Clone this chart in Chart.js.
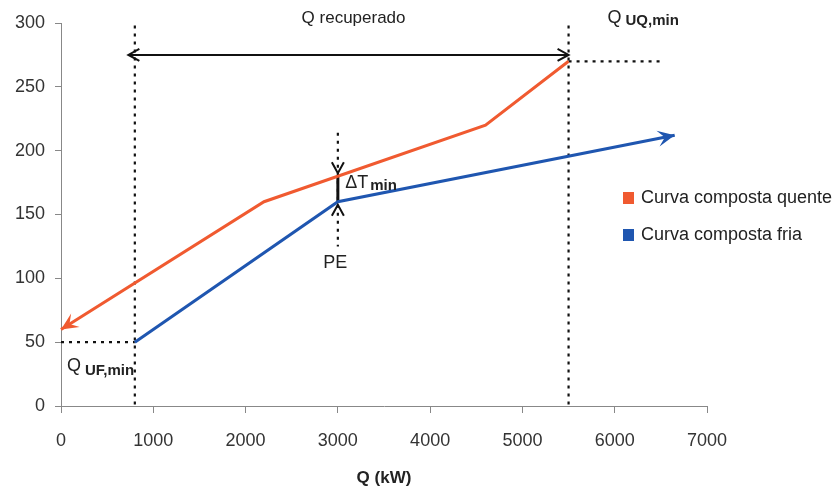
<!DOCTYPE html>
<html>
<head>
<meta charset="utf-8">
<script src="https://cdn.jsdelivr.net/npm/chart.js@4.4.1/dist/chart.umd.min.js"></script>
<style>
html, body { margin: 0; padding: 0; background: #fff; }
#wrap { width: 837px; height: 491px; }
</style>
</head>
<body>
<div id="wrap"><canvas id="myChart"></canvas></div>
<script>
//hot composite curve (Q kW, T)
var hotQ = [0, 2200, 4600, 5500];
var hotT = [60, 160, 220, 270];

//cold composite curve
var coldQ = [800, 3000, 6650];
var coldT = [50, 160, 212];

//axis ticks
var xTicks = [0, 1000, 2000, 3000, 4000, 5000, 6000, 7000];
var yTicks = [0, 50, 100, 150, 200, 250, 300];

//dotted guide lines: q1, t1, q2, t2
var guideQ1 = [800, 5500, 5500, 0, 3000];
var guideT1 = [298, 298, 270, 50, 214];
var guideQ2 = [800, 5500, 6500, 800, 3000];
var guideT2 = [0, 0, 270, 50, 125];

//Q recuperado arrow and delta T at the pinch
var recQ = [730, 5500];
var recT = 275;
var pinchQ = 3000;
var pinchT = [160, 180];

var seriesNames = ["Curva composta quente", "Curva composta fria"];
var hotColor = "#f05a30";
var coldColor = "#1f56b0";

var FONT = "'Liberation Sans', Arial, sans-serif";

function pts(qs, ts) {
    var out = [];
    for (var i = 0; i < qs.length; i++) out.push({x: qs[i], y: ts[i]});
    return out;
}

var datasets = [
    {data: pts(hotQ, hotT), borderColor: hotColor, borderWidth: 3},
    {data: pts(coldQ, coldT), borderColor: coldColor, borderWidth: 3}
];
for (var g = 0; g < guideQ1.length; g++) {
    datasets.push({
        data: [{x: guideQ1[g], y: guideT1[g]}, {x: guideQ2[g], y: guideT2[g]}],
        borderColor: "#111", borderWidth: 2.2, borderDash: [3, 5]
    });
}
datasets.push({data: [{x: recQ[0], y: recT}, {x: recQ[1], y: recT}], borderColor: "#111", borderWidth: 2});
datasets.push({data: [{x: pinchQ, y: pinchT[0]}, {x: pinchQ, y: pinchT[1]}], borderColor: "#111", borderWidth: 3});
datasets.forEach(function (d) {
    d.showLine = true;
    d.pointRadius = 0;
    d.fill = false;
    d.clip = false;
});

//filled arrow head
function stealth(ctx, x, y, ang, color) {
    ctx.save();
    ctx.translate(x, y);
    ctx.rotate(ang);
    ctx.fillStyle = color;
    ctx.beginPath();
    ctx.moveTo(0, 0);
    ctx.lineTo(-17, -8);
    ctx.lineTo(-10, 0);
    ctx.lineTo(-17, 8);
    ctx.closePath();
    ctx.fill();
    ctx.restore();
}

//open arrow head
function chevron(ctx, x, y, ang) {
    ctx.save();
    ctx.translate(x, y);
    ctx.rotate(ang);
    ctx.strokeStyle = "#111";
    ctx.lineWidth = 2;
    ctx.beginPath();
    ctx.moveTo(-11, -6);
    ctx.lineTo(0, 0);
    ctx.lineTo(-11, 6);
    ctx.stroke();
    ctx.restore();
}

var extras = {
    id: "extras",
    afterDatasetsDraw: function (chart) {
        var ctx = chart.ctx;
        var xs = chart.scales.x, ys = chart.scales.y;
        function px(v) { return xs.getPixelForValue(v); }
        function py(v) { return ys.getPixelForValue(v); }

        //curve arrow heads
        var a = Math.atan2(py(hotT[0]) - py(hotT[1]), px(hotQ[0]) - px(hotQ[1]));
        stealth(ctx, px(hotQ[0]), py(hotT[0]), a, hotColor);
        var n = coldQ.length - 1;
        a = Math.atan2(py(coldT[n]) - py(coldT[n - 1]), px(coldQ[n]) - px(coldQ[n - 1]));
        stealth(ctx, px(coldQ[n]), py(coldT[n]), a, coldColor);

        chevron(ctx, px(recQ[0]), py(recT), Math.PI);
        chevron(ctx, px(recQ[1]), py(recT), 0);
        chevron(ctx, px(pinchQ), py(pinchT[1]) - 3, Math.PI / 2);
        chevron(ctx, px(pinchQ), py(pinchT[0]) + 3, -Math.PI / 2);

        //texts
        ctx.save();
        ctx.fillStyle = "#222";
        ctx.textBaseline = "middle";
        ctx.textAlign = "center";
        ctx.font = "17px " + FONT;
        ctx.fillText("Q recuperado", px(3170), py(304));
        ctx.font = "18px " + FONT;
        ctx.fillText("PE", px(2972), py(112));

        ctx.textAlign = "left";
        ctx.fillText("Q", px(5922), py(304));
        ctx.fillText("Q", px(65), py(31));
        ctx.fillText("\u0394T", px(3080), py(175));
        ctx.font = "bold 15px " + FONT;
        ctx.fillText("UQ,min", px(5922) + 18, py(304) + 3);
        ctx.fillText("UF,min", px(65) + 18, py(31) + 4);
        ctx.fillText("min", px(3080) + 25, py(175) + 3);

        //legend
        var cols = [hotColor, coldColor];
        var ly = [198, 235];
        ctx.font = "18px " + FONT;
        for (var i = 0; i < seriesNames.length; i++) {
            ctx.fillStyle = cols[i];
            ctx.fillRect(623, ly[i] - 6, 11, 12);
            ctx.fillStyle = "#222";
            ctx.fillText(seriesNames[i], 641, ly[i]);
        }
        ctx.restore();
    }
};

function plain(v) { return String(v); }

var myChart = new Chart(document.getElementById("myChart"), {
    type: "scatter",
    data: {datasets: datasets},
    plugins: [extras],
    options: {
        responsive: true,
        maintainAspectRatio: false,
        animation: false,
        layout: {padding: {top: 23, right: 130, left: 0, bottom: 0}},
        plugins: {legend: {display: false}, tooltip: {enabled: false}},
        scales: {
            x: {
                type: "linear",
                min: 0, max: 7000,
                afterBuildTicks: function (s) { s.ticks = xTicks.map(function (v) { return {value: v}; }); },
                afterFit: function (s) { s.height = 85; },
                ticks: {color: "#333", font: {family: FONT, size: 18}, padding: 17, maxRotation: 0, callback: plain},
                grid: {drawOnChartArea: false, drawTicks: true, tickLength: 7, color: "#888"},
                border: {color: "#888"},
                title: {display: true, text: "Q (kW)", color: "#222", font: {family: FONT, size: 17, weight: "bold"}, padding: {top: 0, bottom: 2}}
            },
            y: {
                type: "linear",
                min: 0, max: 300,
                afterBuildTicks: function (s) { s.ticks = yTicks.map(function (v) { return {value: v}; }); },
                afterFit: function (s) { s.width = 61; },
                ticks: {color: "#333", font: {family: FONT, size: 18}, padding: 10, callback: plain},
                grid: {drawOnChartArea: false, drawTicks: true, tickLength: 6, color: "#888"},
                border: {color: "#888"}
            }
        }
    }
});
</script>
</body>
</html>
